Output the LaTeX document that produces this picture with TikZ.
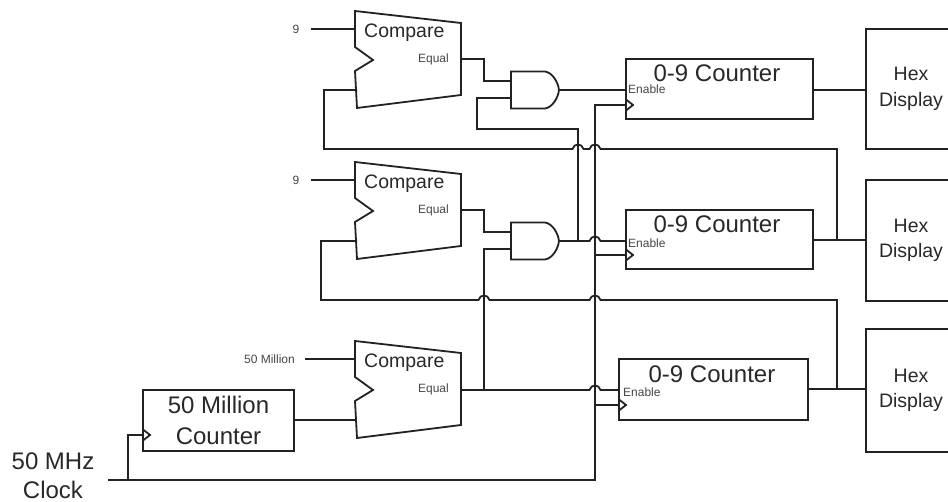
\documentclass[tikz,border=0pt]{standalone}
\usepackage{fontspec}
\setmainfont{Liberation Sans}
\definecolor{fio}{RGB}{34,34,34}
\definecolor{texto}{RGB}{40,40,40}
\definecolor{textoPequeno}{RGB}{70,70,70}
\newcommand{\hop}[1]{-- ([xshift=-5.5pt]#1) .. controls +(1.5,-6) and +(-1.5,-6) .. ([xshift=5.5pt]#1)}

\begin{document}
\begin{tikzpicture}[
    x=1pt, y=-1pt,
    wire/.style={draw=fio, line width=1.8pt, line join=miter},
    box/.style={draw=fio, line width=1.8pt, inner sep=0pt, outer sep=0pt, align=center},
    counter/.style={box, minimum width=187pt, minimum height=60pt},
    hexbox/.style={box, minimum width=90pt, minimum height=120pt, text=texto, font=\fontsize{19.5}{25.5}\selectfont},
    big/.style={text=texto, inner sep=0pt, align=center, font=\fontsize{24}{29}\selectfont},
    small/.style={text=textoPequeno, inner sep=0pt, font=\fontsize{12}{14}\selectfont},
    comparator/.pic={
        \draw[wire] (0,0) -- (106,12) -- (106,84) -- (2,97) -- (0,60) -- (18,49) -- (0,36) -- cycle;
        \coordinate (-in) at (0,18);
        \coordinate (-clk) at (2,79);
        \coordinate (-out) at (106,48);
        \node[text=texto, inner sep=0pt, anchor=west, font=\fontsize{19.5}{24}\selectfont] (-name) at (9,22) {Compare};
        \node[small, anchor=east] (-equal) at (94,48) {Equal};
    },
    andgate/.pic={
        \draw[wire] (0,0) -- (34,0) .. controls (41,1) and (47,10) .. (48,18.5) .. controls (47,27) and (41,36) .. (34,37) -- (0,37) -- cycle;
        \coordinate (-in1) at (0,9.5);
        \coordinate (-in2) at (0,26.5);
        \coordinate (-out) at (48,18.5);
    }
]
    \useasboundingbox (0,0) rectangle (948,502);

    % Comparators
    \pic (cmpA) at (355,11) {comparator};
    \pic (cmpB) at (355,162) {comparator};
    \pic (cmpC) at (355,341) {comparator};
    \node[small] (nineA) at (296,29) {9};
    \node[small] (nineB) at (296,180) {9};
    \node[small, anchor=east] (fifty) at (295,359) {50 Million};

    % Gates
    \pic (andA) at (511,71.5) {andgate};
    \pic (andB) at (511,222.5) {andgate};

    % Counters
    \node[counter] (cntA) at (719.5,89) {};
    \node[counter, minimum height=59pt] (cntB) at (719.5,239.5) {};
    \node[counter, minimum width=189pt, minimum height=61pt] (cntC) at (713.5,389.5) {};
    \node[big] (lblA) at (717,73) {0-9 Counter};
    \node[big] (lblB) at (717,224) {0-9 Counter};
    \node[big] (lblC) at (712,374) {0-9 Counter};
    \node[small, anchor=west] (enA) at (628,89) {Enable};
    \node[small, anchor=west] (enB) at (628,243) {Enable};
    \node[small, anchor=west] (enC) at (623,392) {Enable};
    \node[box, minimum width=151pt, minimum height=61pt, text=texto, font=\fontsize{24}{31}\selectfont] (cntM) at (218.5,420.5) {50 Million\\Counter};

    % Displays
    \node[hexbox] (hexA) at (911,89) {Hex\\Display};
    \node[hexbox, minimum height=121pt] (hexB) at (911,240.5) {Hex\\Display};
    \node[hexbox, minimum height=123pt] (hexC) at (911,390.5) {Hex\\Display};

    % Clock
    \node[big] (clkLbl) at (53,475.5) {50 MHz\\Clock};
    \coordinate (clkIn) at (108,480);
    \coordinate (clkTap) at (128,480);
    \coordinate (clkRail) at (595,105);
    \coordinate (clkA) at (626,105);
    \coordinate (clkB) at (626,255);
    \coordinate (clkC) at (619,405);
    \coordinate (clkM) at (143,435);
    \draw[wire] (clkIn) -| (clkRail) |- (clkA);
    \draw[wire] (clkRail |- clkB) -- (clkB);
    \draw[wire] (clkRail |- clkC) -- (clkC);
    \draw[wire] (clkTap) |- (clkM);
    \foreach \c in {clkA, clkB, clkC, clkM}
        \draw[wire] ([yshift=-5.5pt]\c) -- ([xshift=7pt]\c) -- ([yshift=5.5pt]\c);

    % Inputs
    \draw[wire] ([xshift=11pt]nineA.east) -- (cmpA-in);
    \draw[wire] ([xshift=11pt]nineB.east) -- (cmpB-in);
    \draw[wire] ([xshift=10pt]fifty.east) -- (cmpC-in);
    \draw[wire] (cntM.east |- cmpC-clk) -- (cmpC-clk);

    % Enable chain
    \coordinate (tapB) at (578,241);
    \coordinate (junC) at (484,390);
    \draw[wire] (cmpA-out) -| ([xshift=-27pt]andA-in1) -- (andA-in1);
    \draw[wire] (cmpB-out) -| ([xshift=-27pt]andB-in1) -- (andB-in1);
    \draw[wire] (andA-out) -- (andA-out -| cntA.west);
    \draw[wire] (andB-out) \hop{clkRail |- andB-out} -- (andB-out -| cntB.west);
    \draw[wire] (andA-in2) -| (477,129) -| (tapB);
    \draw[wire] (andB-in2) -| (junC);
    \draw[wire] (junC -| cmpC-out) \hop{clkRail |- junC} -- (junC -| cntC.west);

    % Reset feedback
    \coordinate (fbA) at (324,149);
    \coordinate (fbB) at (321,300);
    \coordinate (tapHexB) at (837,240);
    \coordinate (tapHexC) at (837,389);
    \draw[wire] (cmpA-clk) -| (fbA) \hop{tapB |- fbA} \hop{clkRail |- fbA} -| (tapHexB);
    \draw[wire] (cmpB-clk) -| (fbB) \hop{junC |- fbB} \hop{clkRail |- fbB} -| (tapHexC);

    % Outputs
    \draw[wire] (andA-out -| cntA.east) -- (andA-out -| hexA.west);
    \draw[wire] (tapHexB -| cntB.east) -- (tapHexB -| hexB.west);
    \draw[wire] (tapHexC -| cntC.east) -- (tapHexC -| hexC.west);
\end{tikzpicture}
\end{document}
